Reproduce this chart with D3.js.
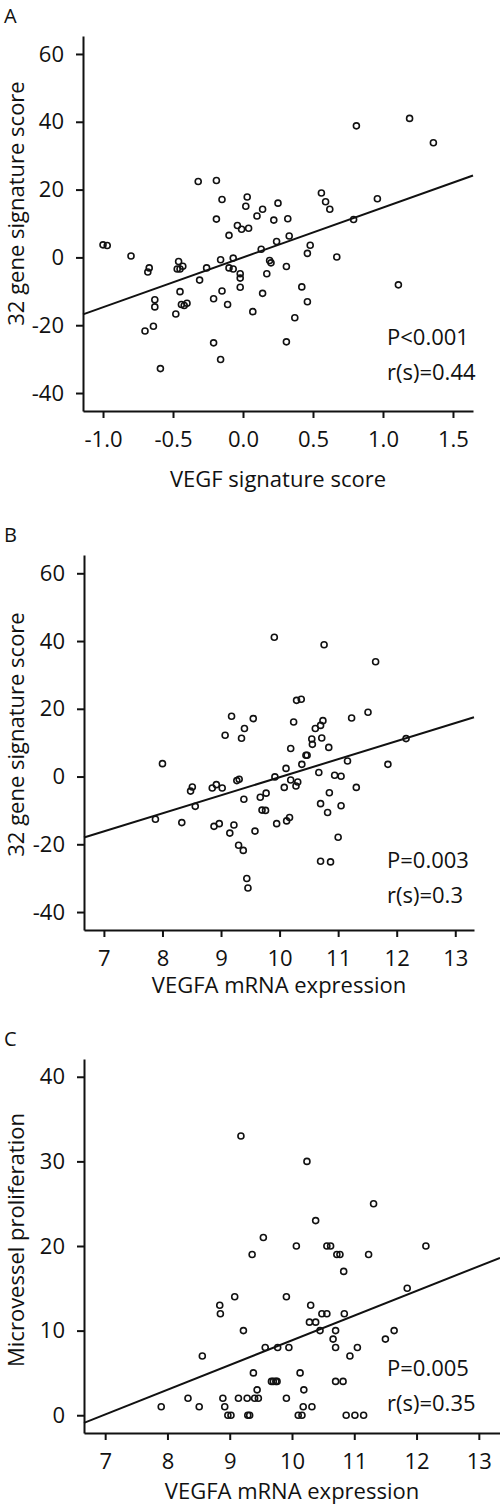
<!DOCTYPE html>
<html>
<head>
<meta charset="utf-8">
<script src="https://cdn.jsdelivr.net/npm/d3@7"></script>
<style>
  body { margin: 0; background: #fff; }
  text { font-family: "Open Sans", sans-serif; fill: #111; }
</style>
</head>
<body>
<script>
// panel A: VEGF signature score vs 32 gene signature score
var aX = [-1.0,-0.97,-0.80,-0.67,-0.68,-0.63,-0.63,-0.64,-0.70,-0.59,-0.46,-0.47,-0.45,-0.43,-0.45,-0.48,-0.44,-0.42,-0.40,-0.32,-0.31,-0.26,-0.21,-0.21,-0.19,-0.19,-0.16,-0.15,-0.16,-0.15,-0.11,-0.10,-0.10,-0.07,-0.07,-0.04,-0.01,-0.02,-0.02,-0.02,0.02,0.03,0.04,0.07,0.10,0.13,0.14,0.14,0.17,0.19,0.20,0.22,0.24,0.25,0.31,0.31,0.32,0.33,0.37,0.42,0.46,0.46,0.48,0.56,0.59,0.62,0.67,0.79,0.81,0.96,1.11,1.19,1.36];
var aY = [3.7,3.5,0.4,-3.1,-4.3,-12.5,-14.6,-20.3,-21.7,-32.8,-1.2,-3.4,-3.4,-2.6,-10.1,-16.7,-13.9,-14.2,-13.5,22.4,-6.7,-3.1,-12.2,-25.2,22.7,11.3,-30.1,17.1,-0.7,-9.9,-13.9,6.5,-3.1,-3.4,-0.2,9.4,8.3,-4.8,-6.1,-8.8,15.1,17.8,8.6,-16.0,12.2,2.4,14.2,-10.6,-4.8,-0.9,-1.6,11.0,4.7,16.0,-2.7,-24.9,11.4,6.3,-17.8,-8.7,-13.1,1.2,3.6,19.0,16.4,14.2,0.1,11.2,38.8,17.3,-8.1,41.0,33.8];

// panel B: VEGFA mRNA expression vs 32 gene signature score
var bX = [7.88,8.00,8.33,8.48,8.51,8.56,8.85,8.88,8.92,8.97,9.02,9.07,9.15,9.18,9.22,9.27,9.30,9.31,9.35,9.38,9.39,9.40,9.44,9.46,9.55,9.58,9.67,9.70,9.76,9.77,9.91,9.92,9.95,10.08,10.11,10.12,10.17,10.19,10.19,10.24,10.28,10.29,10.31,10.37,10.38,10.45,10.47,10.55,10.56,10.61,10.67,10.70,10.70,10.70,10.72,10.74,10.76,10.82,10.84,10.85,10.87,10.94,11.00,11.05,11.05,11.16,11.23,11.31,11.51,11.64,11.85,12.16];
var bY = [-12.6,3.8,-13.6,-4.3,-3.1,-8.8,-3.4,-14.7,-2.4,-13.9,-3.4,12.2,-16.7,17.8,-14.3,-1.2,-20.3,-0.8,11.3,-21.8,-6.7,14.2,-30.1,-32.9,17.1,-16.1,-6.1,-9.9,-10.0,-4.9,41.1,-0.1,-13.9,-3.2,2.4,-13.1,-12.1,-1.0,8.3,16.1,-2.8,22.5,-1.6,22.8,3.6,6.3,6.3,11.1,9.5,14.2,1.2,15.1,-8.0,-25.0,11.4,16.5,38.9,-10.6,8.6,-4.8,-25.2,0.4,-17.9,0.1,-8.6,4.6,17.3,-3.2,19.0,33.9,3.6,11.2];

// panel C: VEGFA mRNA expression vs microvessel proliferation
var cX = [7.90,8.33,8.51,8.56,8.84,8.85,8.89,8.92,8.97,9.02,9.08,9.14,9.18,9.22,9.28,9.29,9.32,9.36,9.38,9.40,9.44,9.46,9.54,9.57,9.67,9.70,9.74,9.76,9.77,9.91,9.91,9.95,10.07,10.10,10.13,10.16,10.18,10.19,10.24,10.30,10.28,10.32,10.38,10.38,10.45,10.48,10.56,10.56,10.62,10.66,10.70,10.70,10.70,10.72,10.77,10.82,10.83,10.84,10.87,10.93,11.01,11.05,11.15,11.23,11.31,11.50,11.64,11.85,12.15];
var cY = [1,2,1,7,13,12,2,1,0,0,14,2,33,10,2,0,0,19,5,2,3,2,21,8,4,4,4,4,8,2,14,8,20,0,5,0,1,3,30,13,11,1,23,11,10,12,12,20,20,9,10,8,4,19,19,4,17,12,0,7,0,8,0,19,25,9,10,15,20];

var aTicksX = [-1.0, -0.5, 0.0, 0.5, 1.0, 1.5];
var bTicksX = [7, 8, 9, 10, 11, 12, 13];
var scoreTicksY = [-40, -20, 0, 20, 40, 60];
var mvpTicksY = [0, 10, 20, 30, 40];

// fitted lines: slope and value at reference x
var fitA = { slope: 14.7, at: 0, value: 0.0 };
var fitB = { slope: 5.33, at: 10, value: -0.2 };
var fitC = { slope: 2.92, at: 10, value: 8.85 };

var svg = d3.select("body").append("svg")
    .attr("width", 500)
    .attr("height", 1508);

function hyphen(fmt) {
  return function(d) { return fmt(d).replace("\u2212", "-"); };
}

function drawPanel(p) {
  var g = svg.append("g");
  var x = d3.scaleLinear().domain(p.xDomain).range([p.left, p.right]);
  var y = d3.scaleLinear().domain(p.yDomain).range([p.bottom, p.top]);

  var xAxis = g.append("g")
      .attr("transform", "translate(0," + p.bottom + ")")
      .call(d3.axisBottom(x).tickValues(p.xTicks).tickSize(7).tickSizeOuter(0).tickPadding(13)
        .tickFormat(hyphen(p.xFormat)));
  var yAxis = g.append("g")
      .attr("transform", "translate(" + p.left + ",0)")
      .call(d3.axisLeft(y).tickValues(p.yTicks).tickSize(7).tickSizeOuter(0).tickPadding(12)
        .tickFormat(hyphen(d3.format("d"))));
  [xAxis, yAxis].forEach(function(a) {
    a.selectAll("path, line").attr("stroke", "#111").attr("stroke-width", 2);
    a.selectAll("text").attr("font-size", 22).attr("fill", "#111")
      .style("font-family", '"Open Sans", sans-serif');
  });

  var x0 = p.xDomain[0], x1 = p.xDomain[1];
  var f = function(v) { return p.fit.value + p.fit.slope * (v - p.fit.at); };
  g.append("line")
      .attr("x1", x(x0)).attr("y1", y(f(x0)))
      .attr("x2", x(x1)).attr("y2", y(f(x1)))
      .attr("stroke", "#111").attr("stroke-width", 2);

  g.selectAll("circle")
      .data(p.xs)
      .enter()
      .append("circle")
      .attr("cx", function(d) { return x(d); })
      .attr("cy", function(d, i) { return y(p.ys[i]); })
      .attr("r", 3)
      .attr("fill", "none")
      .attr("stroke", "#111")
      .attr("stroke-width", 1.6);

  g.append("text").attr("x", 4).attr("y", p.top - 13).attr("font-size", 20).text(p.letter);

  g.append("text")
      .attr("transform", "translate(" + 24 + "," + ((p.top + p.bottom) / 2 + p.yTitleShift) + ") rotate(-90)")
      .attr("text-anchor", "middle")
      .attr("font-size", 22)
      .text(p.yTitle);
  g.append("text")
      .attr("x", (p.left + p.right) / 2).attr("y", p.bottom + p.xTitleOffset)
      .attr("text-anchor", "middle")
      .attr("font-size", 22)
      .text(p.xTitle);

  g.append("text").attr("x", 387).attr("y", p.statY).attr("font-size", 22).text(p.stat1);
  g.append("text").attr("x", 387).attr("y", p.statY + 35).attr("font-size", 22).text(p.stat2);
}

drawPanel({
  letter: "A", xs: aX, ys: aY, left: 83, right: 473, top: 36, bottom: 411,
  xDomain: [-1.143, 1.643], yDomain: [-45.3, 65.3],
  xTicks: aTicksX, yTicks: scoreTicksY, xFormat: d3.format(".1f"),
  fit: fitA, yTitle: "32 gene signature score", yTitleShift: -20, xTitleOffset: 76,
  xTitle: "VEGF signature score", stat1: "P<0.001", stat2: "r(s)=0.44", statY: 345
});
drawPanel({
  letter: "B", xs: bX, ys: bY, left: 84, right: 474, top: 555, bottom: 930,
  xDomain: [6.66, 13.32], yDomain: [-45.3, 65.4],
  xTicks: bTicksX, yTicks: scoreTicksY, xFormat: d3.format("d"),
  fit: fitB, yTitle: "32 gene signature score", yTitleShift: -8, xTitleOffset: 63,
  xTitle: "VEGFA mRNA expression", stat1: "P=0.003", stat2: "r(s)=0.3", statY: 868
});
drawPanel({
  letter: "C", xs: cX, ys: cY, left: 84, right: 500, top: 1059, bottom: 1433,
  xDomain: [6.66, 13.34], yDomain: [-2.1, 42.1],
  xTicks: bTicksX, yTicks: mvpTicksY, xFormat: d3.format("d"),
  fit: fitC, yTitle: "Microvessel proliferation", yTitleShift: -6, xTitleOffset: 66,
  xTitle: "VEGFA mRNA expression", stat1: "P=0.005", stat2: "r(s)=0.35", statY: 1376
});
</script>
</body>
</html>
